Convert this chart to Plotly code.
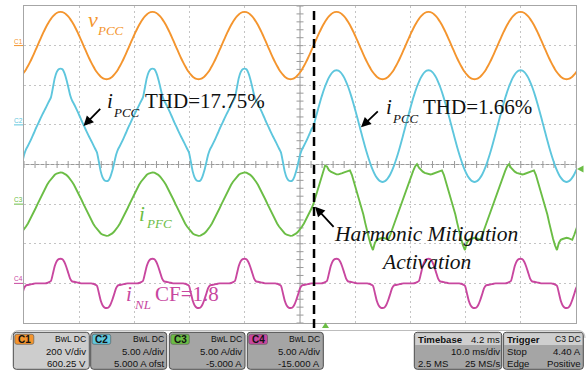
import plotly.graph_objects as go

# ---------------- data ----------------
PERIOD_MS = 1000.0 / 60.0        # 60 Hz grid
CYCLE_T0_MS = 2.45               # rising zero crossing of v_PCC (start of a cycle)
PRE_CYCLES = [-1, 0, 1, 2]       # before harmonic mitigation
POST_CYCLES = [3, 4, 5]          # after harmonic mitigation activation
ACTIVATION_MS = 52.54

CH_NAMES = ["C1", "C2", "C3", "C4"]
CH_SCALE = [200.0, 5.0, 5.0, 5.0]          # V/div, A/div
CH_OFFSET = [600.25, 5.0, -5.0, -15.0]     # channel offsets

# one cycle, 48 samples (7.5 deg steps), values in V
vpcc_cycle = [0, 22.2, 44.0, 65.1, 85.0, 103.5, 120.2, 134.9, 147.2, 157.1, 164.2, 168.5,
              170.0, 168.5, 164.2, 157.1, 147.2, 134.9, 120.2, 103.5, 85.0, 65.1, 44.0, 22.2,
              0, -22.2, -44.0, -65.1, -85.0, -103.5, -120.2, -134.9, -147.2, -157.1, -164.2, -168.5,
              -170.0, -168.5, -164.2, -157.1, -147.2, -134.9, -120.2, -103.5, -85.0, -65.1, -44.0, -22.2]

# i_PCC before activation (A)
ipcc_pre_cycle = [0, 0.52, 1.04, 1.53, 2.0, 2.49, 2.98, 3.47, 4.66, 5.9, 6.66, 7.02,
                  7.1, 7.02, 6.56, 5.8, 4.81, 3.77, 3.08, 2.64, 2.15, 1.63, 1.09, 0.52,
                  0, -0.52, -1.04, -1.53, -2.0, -2.49, -2.98, -3.47, -4.66, -5.9, -6.66, -7.02,
                  -7.1, -7.02, -6.56, -5.8, -4.81, -3.77, -3.08, -2.64, -2.15, -1.63, -1.09, -0.52]

# i_PCC after activation (A)
ipcc_post_cycle = [-0.15, 0.77, 1.67, 2.55, 3.38, 4.14, 4.84, 5.44, 5.96, 6.36, 6.66, 6.84,
                   6.90, 6.84, 6.66, 6.36, 5.96, 5.44, 4.84, 4.14, 3.38, 2.55, 1.67, 0.77,
                   -0.15, -1.07, -1.97, -2.85, -3.68, -4.44, -5.14, -5.74, -6.26, -6.66, -6.96, -7.14,
                   -7.20, -7.14, -6.96, -6.66, -6.26, -5.74, -5.14, -4.44, -3.68, -2.85, -1.97, -1.07]

# i_PFC before activation (A)
ipfc_pre_cycle = [0, 0.52, 1.04, 1.53, 2.0, 2.44, 2.83, 3.17, 3.46, 3.70, 3.86, 3.97,
                  4.0, 3.97, 3.86, 3.70, 3.46, 3.17, 2.83, 2.44, 2.0, 1.53, 1.04, 0.52,
                  0, -0.52, -1.04, -1.53, -2.0, -2.44, -2.83, -3.17, -3.46, -3.70, -3.86, -3.97,
                  -4.0, -3.97, -3.86, -3.70, -3.46, -3.17, -2.83, -2.44, -2.0, -1.53, -1.04, -0.52]

# i_PFC after activation (A)
ipfc_post_cycle = [1.6, 2.3, 2.95, 3.6, 4.2, 4.75, 5.05, 4.6, 4.3, 4.1, 3.95, 3.85,
                   3.75, 3.75, 3.8, 3.9, 4.0, 4.1, 4.2, 4.25, 3.7, 2.9, 2.1, 1.25,
                   0.4, -0.4, -1.3, -2.4, -3.5, -4.4, -5.2, -5.8, -4.9, -4.5, -4.4, -4.3,
                   -4.25, -4.3, -4.4, -4.5, -3.9, -3.2, -2.5, -1.8, -1.15, -0.45, 0.2, 0.9]
# first samples right after the activation instant (0 .. 52.5 deg)
ipfc_activation_start = [0.05, 0.85, 1.65, 2.5, 3.3, 4.1, 4.85, 4.75]

# i_NL nonlinear load current (A)
inl_cycle = [0, 0, 0, 0, 0, 0.05, 0.15, 0.3, 1.2, 2.2, 2.8, 3.05,
             3.1, 3.05, 2.7, 2.1, 1.35, 0.6, 0.25, 0.2, 0.15, 0.1, 0.05, 0,
             0, 0, 0, 0, 0, -0.05, -0.15, -0.3, -1.2, -2.2, -2.8, -3.05,
             -3.1, -3.05, -2.7, -2.1, -1.35, -0.6, -0.25, -0.2, -0.15, -0.1, -0.05, 0]

TRACE_COLORS = ["#F4952E", "#5EC6DD", "#6BBD45", "#C8479F"]
TRACE_SHAPES = ["spline", "spline", "linear", "spline"]

# status bar texts
status_channels = [
    ("C1", "BwL DC", "200 V/div", "600.25 V"),
    ("C2", "BwL DC", "5.00 A/div", "5.000 A ofst"),
    ("C3", "BwL DC", "5.00 A/div", "-5.000 A"),
    ("C4", "BwL DC", "5.00 A/div", "-15.000 A"),
]
timebase_txt = ("Timebase", "4.2 ms", "10.0 ms/div", "2.5 MS", "25 MS/s")
trigger_txt = ("Trigger", "C3 DC", "Stop", "4.40 A", "Edge", "Positive")

# ---------------- helpers ----------------
L, R, TOP, BOT = 24, 576, 6, 323   # plot area in pixels


def X(px):
    return (px - L) / (R - L) * 100.0


def Y(py):
    return 4.0 - (py - TOP) / (BOT - TOP) * 8.0


def PX(px):
    return (px - L) / (R - L)


def PY(py):
    return (BOT - py) / (BOT - TOP)


def build(cycle_pairs):
    t, v = [], []
    for k, vals in cycle_pairs:
        n = len(vals)
        for i, val in enumerate(vals):
            t.append(CYCLE_T0_MS + (k + i / n) * PERIOD_MS)
            v.append(val)
    return t, v


def to_div(vals, ch):
    return [(val + CH_OFFSET[ch]) / CH_SCALE[ch] for val in vals]


series = [
    build([(k, vpcc_cycle) for k in PRE_CYCLES + POST_CYCLES]),
    build([(k, ipcc_pre_cycle) for k in PRE_CYCLES] + [(k, ipcc_post_cycle) for k in POST_CYCLES]),
    build([(k, ipfc_pre_cycle) for k in PRE_CYCLES]
          + [(POST_CYCLES[0], ipfc_activation_start + ipfc_post_cycle[len(ipfc_activation_start):])]
          + [(k, ipfc_post_cycle) for k in POST_CYCLES[1:]]),
    build([(k, inl_cycle) for k in PRE_CYCLES + POST_CYCLES]),
]

fig = go.Figure()

# graticule minor ticks on the centre cross
fig.add_trace(go.Scatter(x=[2 * i for i in range(51)], y=[0] * 51, mode="markers",
                         marker=dict(symbol="line-ns", size=5, line=dict(width=1, color="#9A9A9A")),
                         hoverinfo="skip"))
fig.add_trace(go.Scatter(x=[50] * 41, y=[-4 + 0.2 * i for i in range(41)], mode="markers",
                         marker=dict(symbol="line-ew", size=5, line=dict(width=1, color="#9A9A9A")),
                         hoverinfo="skip"))

for ch, (t, v) in enumerate(series):
    fig.add_trace(go.Scatter(x=t, y=to_div(v, ch), mode="lines",
                             line=dict(color=TRACE_COLORS[ch], width=1.9, shape=TRACE_SHAPES[ch],
                                       smoothing=0.6),
                             hoverinfo="skip"))

shapes = []
# centre cross
shapes.append(dict(type="line", xref="x", yref="y", x0=50, x1=50, y0=-4, y1=4,
                   line=dict(color="#9A9A9A", width=1), layer="below"))
shapes.append(dict(type="line", xref="x", yref="y", x0=0, x1=100, y0=0, y1=0,
                   line=dict(color="#9A9A9A", width=1), layer="below"))
# activation dashed line
shapes.append(dict(type="line", xref="x", yref="paper", x0=ACTIVATION_MS, x1=ACTIVATION_MS,
                   y0=PY(328), y1=1.0, line=dict(color="black", width=2.5, dash="9px,5px")))
# channel markers on the left
for ch in range(4):
    lvl = CH_OFFSET[ch] / CH_SCALE[ch]
    shapes.append(dict(type="line", xref="paper", yref="y", x0=PX(14), x1=PX(23), y0=lvl, y1=lvl,
                       line=dict(color=TRACE_COLORS[ch], width=1)))


def tri(pts, color):
    p = "M " + " L ".join(f"{PX(a)},{PY(b)}" for a, b in pts) + " Z"
    return dict(type="path", xref="paper", yref="paper", path=p, fillcolor=color,
                line=dict(width=0))


shapes.append(tri([(577, 169), (583.5, 165.5), (583.5, 172.5)], TRACE_COLORS[2]))
shapes.append(tri([(325.5, 322.5), (322, 328), (329, 328)], TRACE_COLORS[2]))


def rrect(x0, y0, x1, y1, r, fill, line_color="#4A4A4A", lw=1):
    p = (f"M {PX(x0 + r)},{PY(y0)} L {PX(x1 - r)},{PY(y0)} Q {PX(x1)},{PY(y0)} {PX(x1)},{PY(y0 + r)} "
         f"L {PX(x1)},{PY(y1 - r)} Q {PX(x1)},{PY(y1)} {PX(x1 - r)},{PY(y1)} "
         f"L {PX(x0 + r)},{PY(y1)} Q {PX(x0)},{PY(y1)} {PX(x0)},{PY(y1 - r)} "
         f"L {PX(x0)},{PY(y0 + r)} Q {PX(x0)},{PY(y0)} {PX(x0 + r)},{PY(y0)} Z")
    return dict(type="path", xref="paper", yref="paper", path=p, fillcolor=fill,
                line=dict(color=line_color, width=lw))


# status strip outline
shapes.append(dict(type="path", xref="paper", yref="paper",
                   path=(f"M {PX(11)},{PY(340)} Q {PX(11)},{PY(330.5)} {PX(19)},{PY(330.5)} "
                         f"L {PX(578)},{PY(330.5)} Q {PX(585)},{PY(330.5)} {PX(585)},{PY(338)}"),
                   line=dict(color="#BDBDBD", width=1)))

box_x = [(13.3, 89.3), (90.7, 166.7), (169.3, 245.0), (247.3, 323.3)]
tag_x = [(14.8, 33.8), (92.2, 110.7), (170.8, 189.3), (248.8, 267.5)]
box_fill = ["#CDCDCD", "#A5A5A5", "#A5A5A5", "#A5A5A5"]
for i in range(4):
    shapes.append(rrect(box_x[i][0], 332.3, box_x[i][1], 369.3, 3, box_fill[i]))
    shapes.append(rrect(tag_x[i][0], 334.3, tag_x[i][1], 344.3, 2, TRACE_COLORS[i], "#555555", 0.6))

for bx0, bx1 in [(414.3, 501.7), (503.3, 583.3)]:
    shapes.append(rrect(bx0, 332.3, bx1, 369.3, 3, "#A5A5A5"))
    shapes.append(dict(type="rect", xref="paper", yref="paper", x0=PX(bx0 + 1), x1=PX(bx1 - 1),
                       y0=PY(345.0), y1=PY(333.3), fillcolor="#CFCFCF", line=dict(width=0)))

annotations = []
UI = "Liberation Sans"
SERIF = "Liberation Serif"


def txt(s, x, y, size, color="#111111", anchor="left", family=UI):
    annotations.append(dict(text=s, x=PX(x), y=PY(y), xref="paper", yref="paper", xanchor=anchor,
                            yanchor="middle", showarrow=False, borderpad=0,
                            font=dict(size=size, color=color, family=family)))


ROW1, ROW2, ROW3 = 339.2, 351.8, 363.2
FS = 9.6
for i, (tag, hdr, r2, r3) in enumerate(status_channels):
    txt("<b>" + tag + "</b>", (tag_x[i][0] + tag_x[i][1]) / 2, 339.5, 10, anchor="center")
    txt(hdr, box_x[i][1] - 2, ROW1, 8.6, anchor="right")
    txt(r2, box_x[i][1] - 2, ROW2, FS, anchor="right")
    txt(r3, box_x[i][1] - 2, ROW3, FS, anchor="right")

txt("<b>" + timebase_txt[0] + "</b>", 416.5, ROW1, FS)
txt(timebase_txt[1], 500.5, ROW1, FS, anchor="right")
txt(timebase_txt[2], 500.5, ROW2, FS, anchor="right")
txt(timebase_txt[3], 416.5, ROW3, FS)
txt(timebase_txt[4], 500.5, ROW3, FS, anchor="right")
txt("<b>" + trigger_txt[0] + "</b>", 505.8, ROW1, FS)
txt(trigger_txt[1], 581.5, ROW1, 8.6, anchor="right")
txt(trigger_txt[2], 505.8, ROW2, FS)
txt(trigger_txt[3], 581.5, ROW2, FS, anchor="right")
txt(trigger_txt[4], 505.8, ROW3, FS)
txt(trigger_txt[5], 581.5, ROW3, FS, anchor="right")

# channel names on the left edge
for ch in range(4):
    lvl_py = 164.5 - CH_OFFSET[ch] / CH_SCALE[ch] * 39.625
    txt(CH_NAMES[ch], 18.5, lvl_py - 4.5, 6.5, color=TRACE_COLORS[ch], anchor="center")

# waveform labels
txt("<i>v</i>", 87.0, 19.6, 22, TRACE_COLORS[0], family=SERIF)
txt("<i>PCC</i>", 96.0, 30.6, 13, TRACE_COLORS[0], family=SERIF)
txt("<i>i</i>", 105.5, 101.2, 21, family=SERIF)
txt("<i>PCC</i>", 112.0, 112.3, 13, family=SERIF)
txt("THD=17.75%", 144.0, 101.2, 21, family=SERIF)
txt("<i>i</i>", 384.5, 106.7, 21, family=SERIF)
txt("<i>PCC</i>", 391.0, 118.6, 13, family=SERIF)
txt("THD=1.66%", 421.5, 107.2, 21, family=SERIF)
txt("<i>i</i>", 137.5, 213.9, 21, TRACE_COLORS[2], family=SERIF)
txt("<i>PFC</i>", 144.5, 223.9, 13, TRACE_COLORS[2], family=SERIF)
txt("<i>i</i>", 125.0, 293.9, 21, TRACE_COLORS[3], family=SERIF)
txt("<i>NL</i>", 133.0, 304.1, 13, TRACE_COLORS[3], family=SERIF)
txt("CF=1.8", 154.0, 293.9, 21, TRACE_COLORS[3], family=SERIF)
txt("<i>Harmonic Mitigation</i>", 426.0, 234.4, 21.5, anchor="center", family=SERIF)
txt("<i>Activation</i>", 426.0, 261.7, 21.5, anchor="center", family=SERIF)

# arrows
for tip, tail in [((83.5, 126.0), (101.7, 107.3)), ((361.0, 127.3), (379.3, 110.0)),
                  ((315.0, 206.7), (335.0, 228.3))]:
    annotations.append(dict(x=X(tip[0]), y=Y(tip[1]), xref="x", yref="y", text="", showarrow=True,
                            ax=tail[0] - tip[0], ay=tail[1] - tip[1], arrowhead=2, arrowsize=1.1,
                            arrowwidth=1.8, arrowcolor="black", standoff=0))

axis_common = dict(showgrid=True, gridcolor="#C4C4C4", griddash="2px,3px", gridwidth=1,
                   zeroline=False, showticklabels=False, ticks="", showline=True,
                   linecolor="#A6A6A6", linewidth=1, mirror=True, fixedrange=True)

fig.update_layout(
    width=586, height=373, margin=dict(l=L, r=586 - R, t=TOP, b=373 - BOT),
    paper_bgcolor="white", plot_bgcolor="white", showlegend=False,
    xaxis=dict(range=[0, 100], dtick=10, tick0=0, **axis_common),
    yaxis=dict(range=[-4, 4], dtick=1, tick0=0, **axis_common),
    shapes=shapes, annotations=annotations,
)

fig.write_html("out.html")
